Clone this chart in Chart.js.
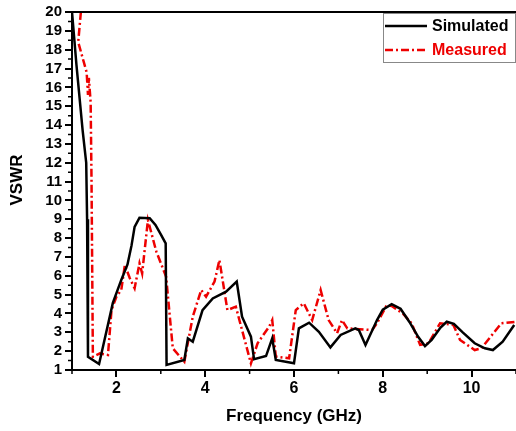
<!DOCTYPE html>
<html>
<head>
<meta charset="utf-8">
<script src="https://cdn.jsdelivr.net/npm/chart.js@4.4.0/dist/chart.umd.min.js"></script>
<style>
  html, body { margin: 0; padding: 0; background: #fff; }
</style>
</head>
<body>
<canvas id="mycanvas" width="516" height="431"></canvas>
<script>
// values
var simFreq = [1.0, 1.1, 1.24, 1.32, 1.34, 1.36, 1.61, 1.92, 2.11, 2.25, 2.34, 2.41, 2.52, 2.75, 2.88, 3.0, 3.11, 3.13,
  3.53, 3.61, 3.72, 3.94, 4.17, 4.47, 4.71, 4.83, 5.03, 5.10, 5.37, 5.51, 5.59, 6.0, 6.11, 6.34, 6.56, 6.82,
  7.05, 7.38, 7.46, 7.61, 7.87, 8.0, 8.2, 8.4, 8.6, 8.8, 8.95, 9.1, 9.3, 9.44, 9.6, 9.8, 10.07, 10.3, 10.48, 10.7, 10.96];
var simVswr = [20, 17.2, 13.7, 12.0, 9.0, 1.7, 1.32, 4.56, 5.78, 6.6, 7.6, 8.6, 9.08, 9.06, 8.7, 8.2, 7.72, 1.27,
  1.53, 2.68, 2.5, 4.18, 4.8, 5.16, 5.69, 3.83, 2.77, 1.57, 1.74, 2.68, 1.53, 1.36, 3.21, 3.51, 3.03, 2.2,
  2.86, 3.21, 3.12, 2.33, 3.65, 4.2, 4.49, 4.25, 3.55, 2.75, 2.27, 2.6, 3.25, 3.56, 3.45, 3.0, 2.42, 2.15, 2.06, 2.5, 3.39];

var measFreq = [1.2, 1.14, 1.33, 1.36, 1.38, 1.42, 1.44, 1.47, 1.63, 1.81, 1.89, 2.0, 2.11, 2.19, 2.30, 2.41, 2.52, 2.58,
  2.71, 2.90, 3.09, 3.12, 3.27, 3.53, 3.72, 3.91, 4.02, 4.21, 4.32, 4.5, 4.69, 5.03, 5.18, 5.44, 5.51, 5.59,
  5.89, 6.04, 6.22, 6.41, 6.60, 6.78, 6.97, 7.08, 7.20, 7.76, 7.87, 8.09, 8.2, 8.45, 8.65, 8.84, 9.03, 9.29,
  9.59, 9.74, 10.07, 10.22, 10.67, 11.0];
var measVswr = [20, 18.4, 16.8, 15.6, 16.5, 15.2, 11, 1.7, 1.88, 1.8, 4.18, 4.89, 5.25, 6.57, 5.88, 5.34, 6.66, 6.13,
  8.96, 7.28, 6.13, 5.95, 2.15, 1.44, 3.83, 5.25, 4.89, 5.69, 6.84, 4.18, 4.36, 1.35, 2.42, 3.3, 3.65, 1.71,
  1.62, 4.18, 4.54, 3.65, 5.25, 3.65, 2.95, 3.65, 3.21, 3.12, 3.48, 4.45, 4.4, 4.0, 3.48, 2.33, 2.42, 3.48,
  3.39, 2.59, 2.06, 2.15, 3.48, 3.56];

var xMajor = [2, 4, 6, 8, 10];
var xMinor = [1, 3, 5, 7, 9, 11];
var yMajor = [1, 2, 3, 4, 5, 6, 7, 8, 9, 10, 11, 12, 13, 14, 15, 16, 17, 18, 19, 20];
var yMinor = [1.5, 2.5, 3.5, 4.5, 5.5, 6.5, 7.5, 8.5, 9.5, 10.5, 11.5, 12.5, 13.5, 14.5, 15.5, 16.5, 17.5, 18.5, 19.5];

var FONT = "'Liberation Sans', Arial, sans-serif";

function toPoints(xs, ys) {
  var pts = [];
  for (var i in xs) {
    pts.push({ x: xs[i], y: ys[i] });
  }
  return pts;
}

// top frame, minor ticks, rotated y title and the boxed legend
var extras = {
  id: 'extras',
  afterDraw: function(chart) {
    var ctx = chart.ctx;
    var a = chart.chartArea;
    var xs = chart.scales.x, ys = chart.scales.y;
    ctx.save();
    ctx.strokeStyle = '#000';
    ctx.lineWidth = 2;
    ctx.beginPath();
    ctx.moveTo(a.left - 1, a.top);
    ctx.lineTo(a.right, a.top);
    ctx.stroke();

    ctx.lineWidth = 1.5;
    ctx.beginPath();
    yMinor.forEach(function(v) {
      var p = ys.getPixelForValue(v);
      ctx.moveTo(a.left - 4, p);
      ctx.lineTo(a.left, p);
    });
    xMinor.forEach(function(v) {
      var p = xs.getPixelForValue(v);
      ctx.moveTo(p, a.bottom);
      ctx.lineTo(p, a.bottom + 4);
    });
    ctx.stroke();

    // y title
    ctx.save();
    ctx.translate(17, 180);
    ctx.rotate(-Math.PI / 2);
    ctx.fillStyle = '#000';
    ctx.font = 'bold 17px ' + FONT;
    ctx.textAlign = 'center';
    ctx.textBaseline = 'middle';
    ctx.fillText('VSWR', 0, 0);
    ctx.restore();

    // legend
    ctx.strokeStyle = '#888';
    ctx.lineWidth = 1;
    ctx.strokeRect(383.5, 13.5, 132, 49);
    ctx.font = 'bold 16px ' + FONT;
    ctx.textBaseline = 'middle';
    ctx.textAlign = 'left';
    chart.data.datasets.forEach(function(ds, i) {
      var y = 26 + i * 24;
      ctx.strokeStyle = ds.borderColor;
      ctx.lineWidth = ds.borderWidth;
      ctx.setLineDash(ds.borderDash || []);
      ctx.beginPath();
      ctx.moveTo(385, y);
      ctx.lineTo(427, y);
      ctx.stroke();
      ctx.setLineDash([]);
      ctx.fillStyle = ds.borderColor;
      ctx.fillText(ds.label, 432, y + 1);
    });
    ctx.restore();
  }
};

var ctx = document.getElementById('mycanvas');

var chart = new Chart(ctx, {
  type: 'line',
  data: {
    datasets: [
      {
        label: 'Simulated',
        data: toPoints(simFreq, simVswr),
        borderColor: '#000000',
        borderWidth: 2.5,
        pointRadius: 0,
        tension: 0
      },
      {
        label: 'Measured',
        data: toPoints(measFreq, measVswr),
        borderColor: '#ee0000',
        borderWidth: 2.5,
        borderDash: [8, 3, 2, 3],
        pointRadius: 0,
        tension: 0
      }
    ]
  },
  options: {
    responsive: false,
    animation: false,
    devicePixelRatio: 1,
    layout: { padding: { top: 11, right: 0, left: 0, bottom: 0 } },
    plugins: {
      legend: { display: false },
      tooltip: { enabled: false }
    },
    scales: {
      x: {
        type: 'linear',
        min: 1,
        max: 11,
        afterBuildTicks: function(scale) {
          scale.ticks = xMajor.map(function(v) { return { value: v }; });
        },
        afterFit: function(scale) { scale.height = 61; },
        ticks: { color: '#000', font: { family: FONT, size: 16, weight: 'bold' }, padding: 2, maxRotation: 0, autoSkip: false },
        grid: { drawOnChartArea: false, drawTicks: true, tickLength: 7, color: '#000', lineWidth: 2 },
        border: { display: true, color: '#000', width: 2 },
        title: {
          display: true,
          text: 'Frequency (GHz)',
          color: '#000',
          font: { family: FONT, size: 17, weight: 'bold' },
          padding: { top: 0, bottom: 4 }
        }
      },
      y: {
        type: 'linear',
        min: 1,
        max: 20,
        afterBuildTicks: function(scale) {
          scale.ticks = yMajor.map(function(v) { return { value: v }; });
        },
        afterFit: function(scale) { scale.width = 72; },
        ticks: { color: '#000', font: { family: FONT, size: 15, weight: 'bold' }, padding: 3, autoSkip: false },
        grid: { drawOnChartArea: false, drawTicks: true, tickLength: 7, color: '#000', lineWidth: 2 },
        border: { display: true, color: '#000', width: 2 }
      }
    }
  },
  plugins: [extras]
});
</script>
</body>
</html>
